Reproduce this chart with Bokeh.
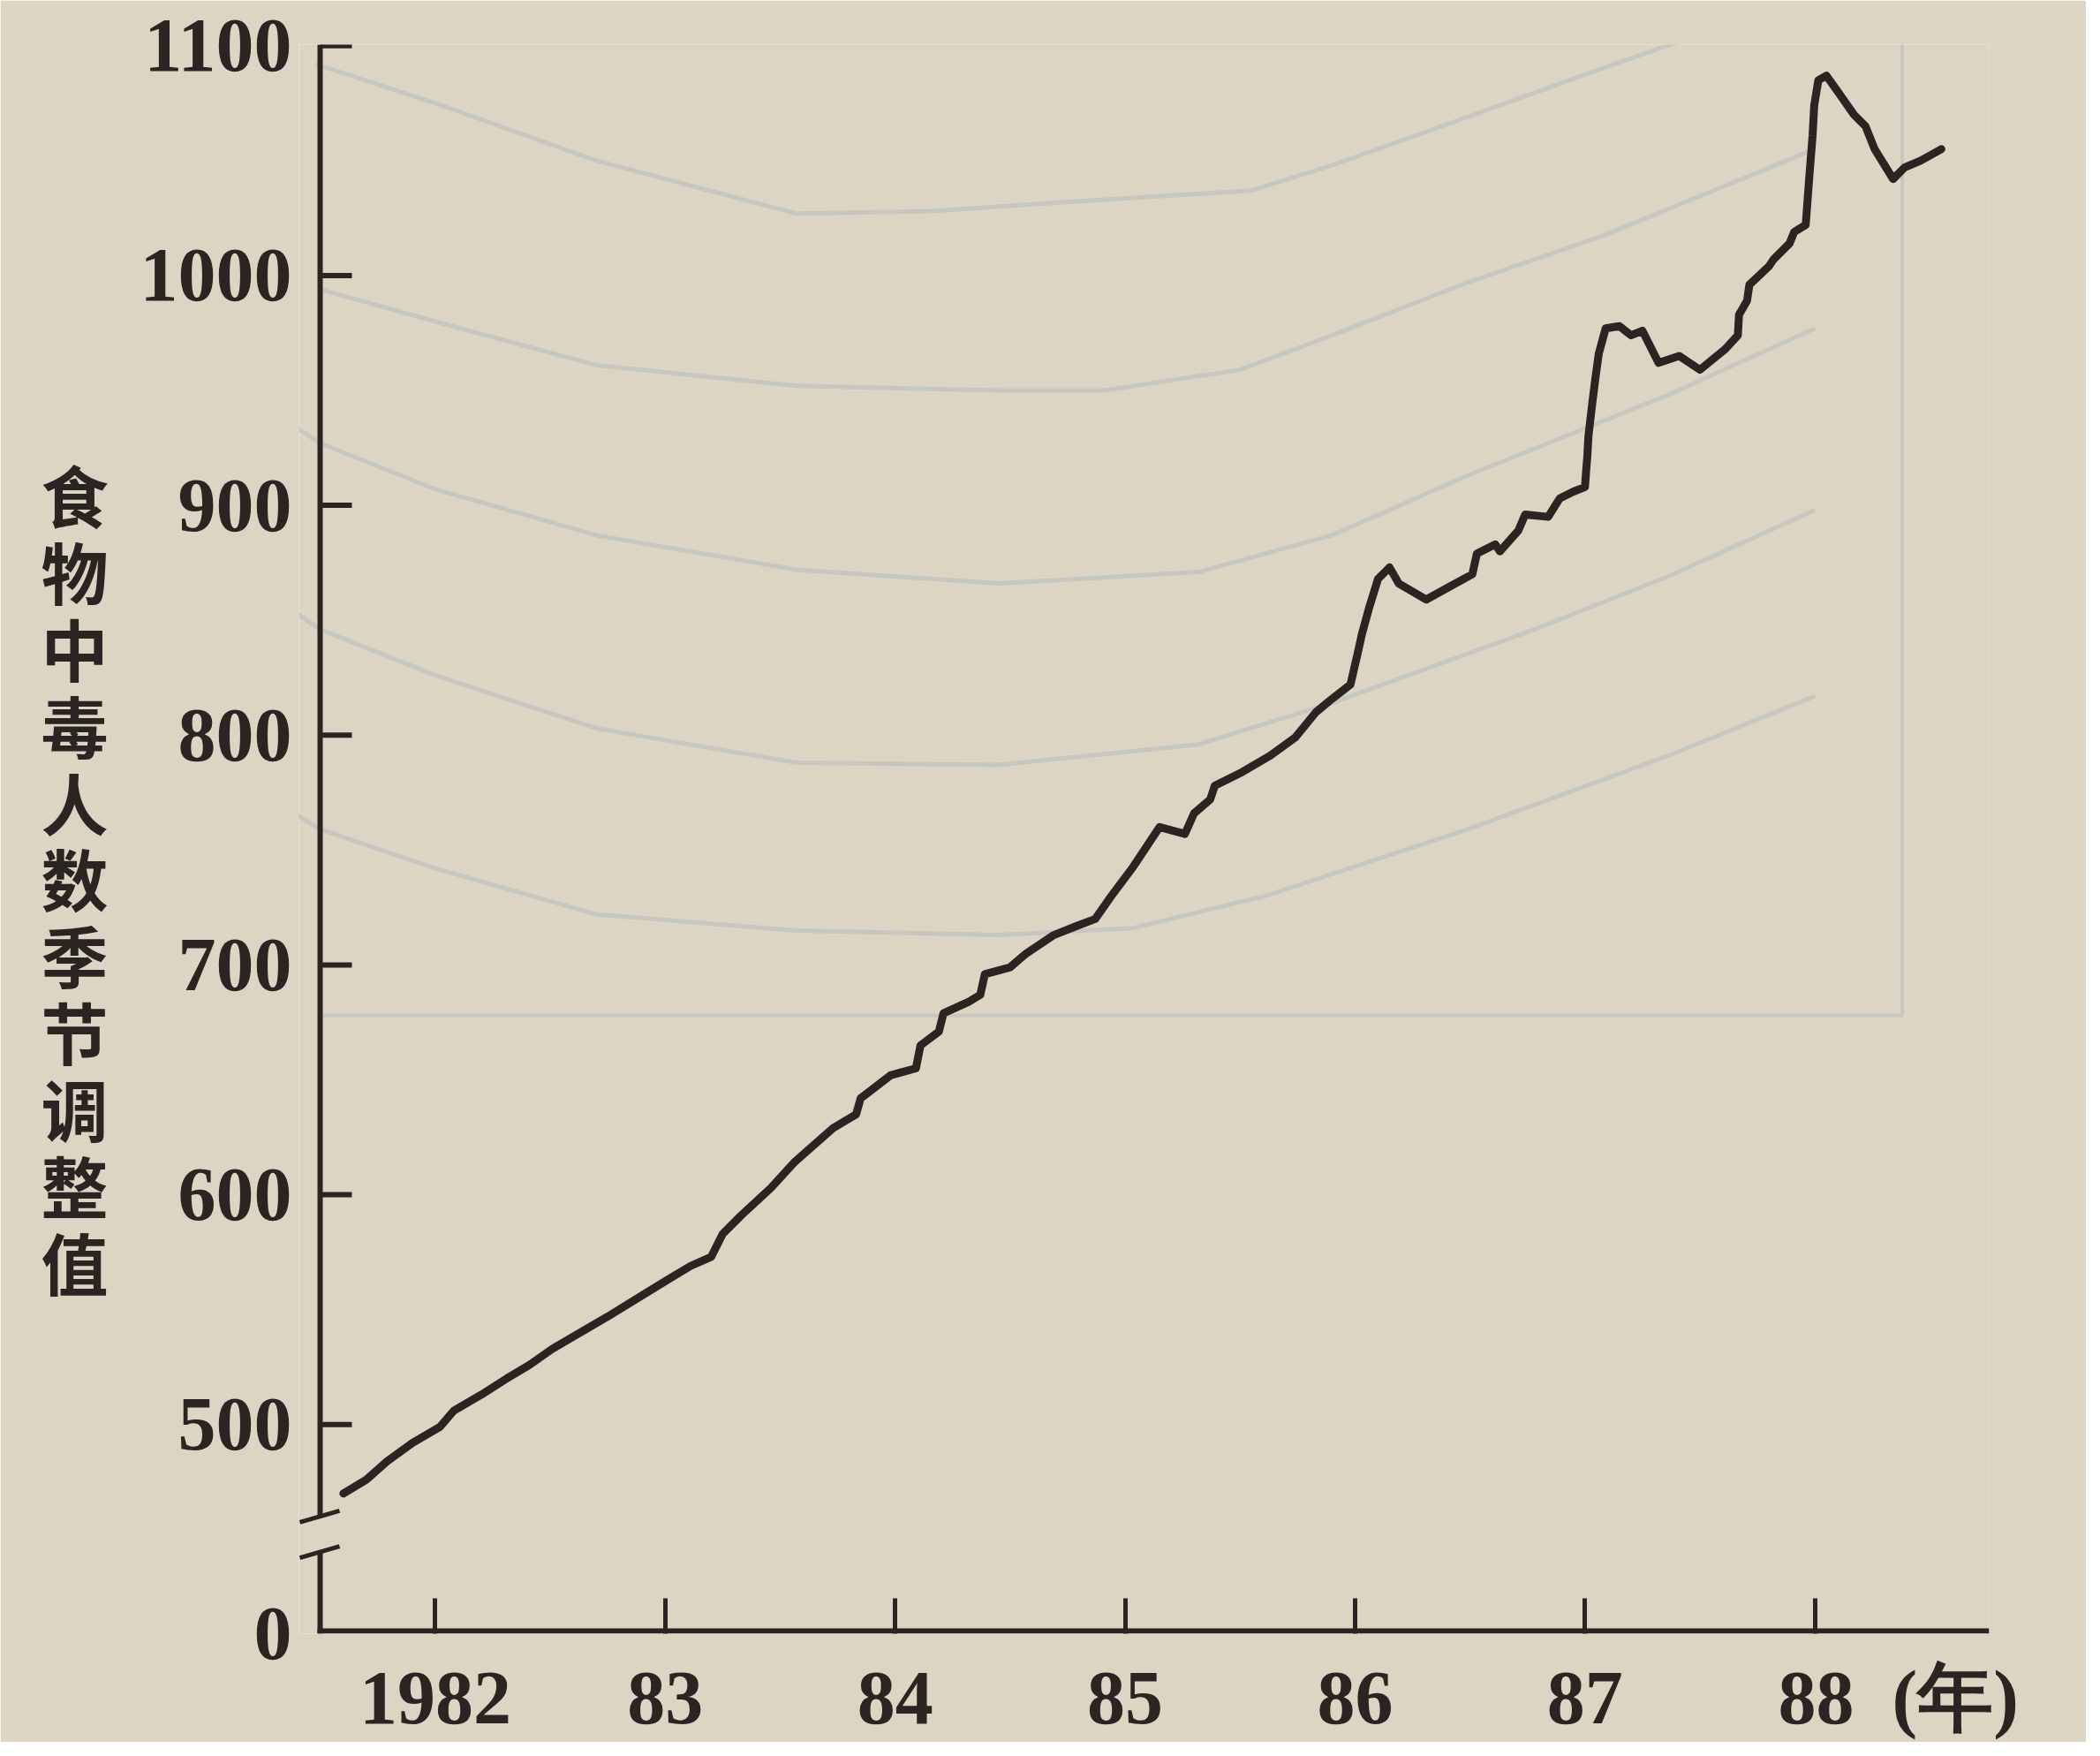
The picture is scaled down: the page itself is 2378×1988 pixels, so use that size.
from bokeh.plotting import figure
from bokeh.models import Range1d, FixedTicker
from bokeh.embed import file_html
from bokeh.resources import INLINE

# ---------------- data ----------------
years = [1981.60, 1981.70, 1981.79, 1981.90, 1982.02, 1982.08, 1982.20, 1982.31, 1982.41, 1982.51,
         1982.63, 1982.75, 1982.88, 1983.01, 1983.11, 1983.20, 1983.25, 1983.33, 1983.46, 1983.56,
         1983.73, 1983.83, 1983.85, 1983.98, 1984.09, 1984.11, 1984.19, 1984.21, 1984.32, 1984.37,
         1984.39, 1984.50, 1984.57, 1984.69, 1984.79, 1984.87, 1984.94, 1985.03, 1985.15, 1985.26,
         1985.30, 1985.37, 1985.39, 1985.51, 1985.63, 1985.74, 1985.83, 1985.89, 1985.98, 1986.01,
         1986.03, 1986.06, 1986.10, 1986.15, 1986.19, 1986.31, 1986.40, 1986.51, 1986.53, 1986.61,
         1986.63, 1986.71, 1986.74, 1986.84, 1986.89, 1986.95, 1987.00, 1987.005, 1987.01, 1987.015,
         1987.03, 1987.045, 1987.06, 1987.09, 1987.15, 1987.20, 1987.25, 1987.32, 1987.41, 1987.50,
         1987.61, 1987.665, 1987.67, 1987.705, 1987.715, 1987.80, 1987.82, 1987.89, 1987.91, 1987.96,
         1987.975, 1987.99, 1987.997, 1988.015, 1988.05, 1988.10, 1988.17, 1988.22, 1988.26, 1988.34,
         1988.39, 1988.46, 1988.55]
counts = [470, 476, 484, 492, 499, 506, 513, 520, 526, 533,
          540, 547, 555, 563, 569, 573, 583, 591, 603, 614,
          629, 635, 642, 652, 655, 665, 671, 679, 684, 687,
          696, 699, 705, 713, 717, 720, 730, 742, 760, 757,
          766, 772, 778, 784, 791, 799, 810, 815, 822, 835,
          844, 855, 868, 873, 866, 859, 864, 870, 879, 883,
          880, 889, 896, 895, 903, 906, 908, 915, 921, 930,
          943, 955, 966, 977, 978, 974, 976, 962, 965, 959,
          968, 974, 983, 989, 996, 1004, 1007, 1014, 1019, 1022,
          1042, 1061, 1074, 1085, 1087, 1080, 1070, 1065, 1055, 1042,
          1047, 1050, 1055]

y_ticks = [500, 600, 700, 800, 900, 1000, 1100]
y_zero_label = "0"
x_ticks = [1982, 1983, 1984, 1985, 1986, 1987, 1988]
x_tick_labels = ["1982", "83", "84", "85", "86", "87", "88"]
y_title = "食物中毒人数季节调整值"
x_unit = "(年)"

# faint curves showing through from the reverse side of the page
ghost_x_1 = [1981.48, 1982.0, 1982.70, 1983.57, 1984.16, 1984.74, 1985.55, 1985.90, 1986.49, 1987.07, 1987.53]
ghost_y_1 = [1092, 1075, 1050, 1027, 1028, 1032, 1037, 1048, 1069, 1090, 1106]
ghost_x_2 = [1981.50, 1982.0, 1982.70, 1983.57, 1984.45, 1984.91, 1985.50, 1985.90, 1986.49, 1987.07, 1988.0]
ghost_y_2 = [994, 980, 961, 952, 950, 950, 959, 974, 997, 1017, 1055]
ghost_x_3 = [1981.10, 1981.50, 1982.0, 1982.70, 1983.57, 1984.45, 1985.32, 1985.90, 1986.49, 1987.36, 1988.0]
ghost_y_3 = [953, 927, 907, 887, 872, 866, 871, 887, 913, 948, 977]
ghost_x_4 = [1981.07, 1981.50, 1982.0, 1982.70, 1983.57, 1984.45, 1985.32, 1985.90, 1986.78, 1987.36, 1988.0]
ghost_y_4 = [875, 846, 826, 803, 788, 787, 796, 814, 846, 869, 898]
ghost_x_5 = [1981.13, 1981.50, 1982.0, 1982.70, 1983.57, 1984.45, 1985.03, 1985.61, 1986.49, 1987.36, 1988.0]
ghost_y_5 = [782, 759, 742, 722, 715, 713, 716, 730, 759, 791, 817]
ghost_frame_x = 1988.38
ghost_frame_y = 678

# ---------------- layout / style ----------------
INK = "#2a2522"
PAPER = "#ddd5c4"
GHOST = "#c5c7c0"
NUM_FONT = "Liberation Serif"
CJK_FONT = "Noto Sans CJK SC"

W, H = 2362, 1972
ML, MR, MT, MB = 338, 110, 50, 118
X0, X1 = 1981.4066, 1988.758
Y_ZERO = 409            # bottom of the broken axis, labelled 0
Y0, Y1 = 409, 1100.5
BREAK_HI, BREAK_LO = 460.0, 444.5

FW = W - ML - MR
FH = H - MT - MB
PXX = FW / (X1 - X0)       # px per year
PXY = FH / (Y1 - Y0)       # px per count unit
AX = X0 + 24 / PXX         # x of the drawn y-axis line

p = figure(width=W, height=H, x_range=Range1d(X0, X1), y_range=Range1d(Y0, Y1),
           output_backend="svg", toolbar_location=None,
           min_border_left=ML, min_border_right=MR, min_border_top=MT, min_border_bottom=MB)
p.background_fill_color = PAPER
p.border_fill_color = PAPER
p.outline_line_color = None
p.grid.visible = False

# ghost curves
for gx, gy in [(ghost_x_1, ghost_y_1), (ghost_x_2, ghost_y_2), (ghost_x_3, ghost_y_3),
               (ghost_x_4, ghost_y_4), (ghost_x_5, ghost_y_5)]:
    p.line(gx, gy, line_color=GHOST, line_width=5, line_join="round")
p.line([ghost_frame_x, ghost_frame_x], [ghost_frame_y, Y1], line_color=GHOST, line_width=4)
p.line([AX, ghost_frame_x], [ghost_frame_y, ghost_frame_y], line_color=GHOST, line_width=4)

# ---- y axis: labels from bokeh; line (with break) and inward ticks drawn ----
yax = p.yaxis[0]
yax.ticker = FixedTicker(ticks=[Y_ZERO] + y_ticks)
yax.major_label_overrides = {Y_ZERO: y_zero_label}
yax.axis_line_color = None
yax.major_tick_line_color = None
yax.minor_tick_line_color = None
yax.major_label_standoff = 2
yax.major_label_text_font = NUM_FONT
yax.major_label_text_font_style = "bold"
yax.major_label_text_font_size = "86px"
yax.major_label_text_color = INK
yax.axis_label = "\n" + "\n".join(y_title)
yax.axis_label_orientation = "horizontal"
yax.axis_label_standoff = 33
yax.axis_label_text_font = CJK_FONT
yax.axis_label_text_font_style = "bold"
yax.axis_label_text_font_size = "76px"
yax.axis_label_text_line_height = 0.79
yax.axis_label_text_color = INK

p.segment(x0=[AX] * len(y_ticks), y0=y_ticks, x1=[AX + 36 / PXX] * len(y_ticks), y1=y_ticks,
          line_color=INK, line_width=6)
p.line([AX, AX], [BREAK_HI, Y1], line_color=INK, line_width=6)
p.line([AX, AX], [Y0, BREAK_LO], line_color=INK, line_width=6)
p.segment(x0=[AX - 23 / PXX] * 2, y0=[BREAK_HI - 6.5 / PXY, BREAK_LO - 6.5 / PXY],
          x1=[AX + 22 / PXX] * 2, y1=[BREAK_HI + 6.5 / PXY, BREAK_LO + 6.5 / PXY],
          line_color=INK, line_width=5)

# ---- x axis: ticks and labels from bokeh; line drawn from the y axis ----
xax = p.xaxis[0]
xax.ticker = FixedTicker(ticks=x_ticks)
labels = dict(zip(x_ticks, x_tick_labels))
# the unit sits on the same row, right of the last year; pad left so "88" stays centred
labels[x_ticks[-1]] = "\u3000\u3000\u2009" + x_tick_labels[-1] + "\u2002" + x_unit
xax.major_label_overrides = labels
xax.axis_line_color = None
xax.major_tick_in = 40
xax.major_tick_out = 0
xax.major_tick_line_width = 5
xax.major_tick_line_color = INK
xax.minor_tick_line_color = None
xax.major_label_standoff = 24
xax.major_label_text_font = NUM_FONT
xax.major_label_text_font_style = "bold"
xax.major_label_text_font_size = "86px"
xax.major_label_text_line_height = 0.85
xax.major_label_text_color = INK
p.line([AX - 3 / PXX, X1], [Y0 + 3 / PXY, Y0 + 3 / PXY], line_color=INK, line_width=6)

# main series
p.line(years, counts, line_color=INK, line_width=9, line_join="round", line_cap="round")

html = file_html(p, INLINE)
html = html.replace("<body>", '<body style="background-color:%s;">' % PAPER, 1)
open("out.html", "w").write(html)
